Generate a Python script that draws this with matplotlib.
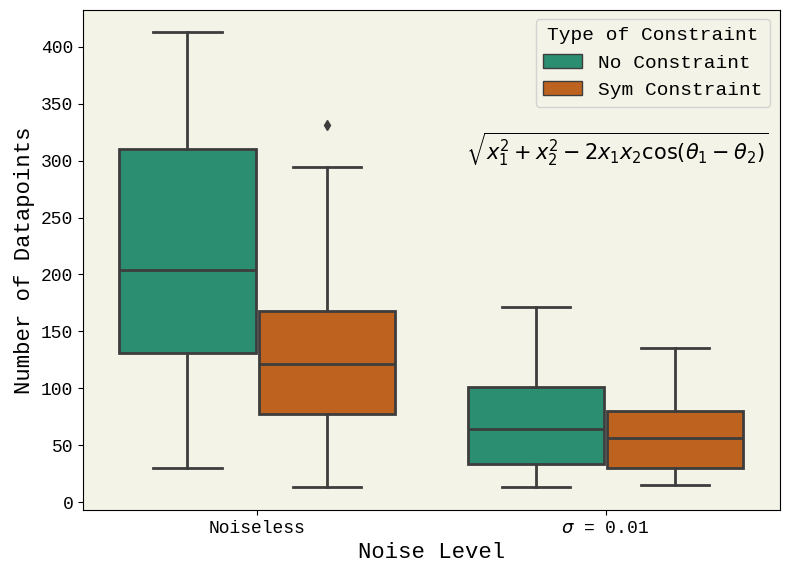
import numpy as np
import matplotlib.pyplot as plt
from matplotlib.patches import Patch

plt.rcParams["font.family"] = ["Liberation Mono", "DejaVu Sans Mono"]
plt.rcParams["mathtext.fontset"] = "dejavusans"

# ---- data ----
noise_levels = ["Noiseless", r"$\sigma$ = 0.01"]
constraints = ["No Constraint", "Sym Constraint"]
colors = ["#2b8e71", "#be631f"]

# per constraint, per noise level: low whisker, Q1, median, Q3, high whisker
whislo = [[30, 13], [13, 15]]
q1 = [[131, 33], [77, 30]]
med = [[204, 64], [121, 56]]
q3 = [[310, 101], [168, 80]]
whishi = [[413, 171], [294, 135]]
fliers = [[[], []], [[331], []]]

fig = plt.figure(figsize=(7.9, 5.75), dpi=100)
ax = fig.add_axes([0.105, 0.113, 0.882, 0.870])
ax.set_facecolor("#f3f3e7")

edge = "#3d3d3d"
box_w = 0.4 * 0.98
for h, name in enumerate(constraints):
    stats = []
    for i in range(len(noise_levels)):
        stats.append(dict(whislo=whislo[h][i], q1=q1[h][i], med=med[h][i],
                          q3=q3[h][i], whishi=whishi[h][i], fliers=fliers[h][i]))
    pos = np.arange(len(noise_levels)) + (h - 0.5) * 0.4
    ax.bxp(stats, positions=pos, widths=box_w, patch_artist=True,
           showfliers=True, manage_ticks=False,
           boxprops=dict(facecolor=colors[h], edgecolor=edge, linewidth=2),
           medianprops=dict(color=edge, linewidth=2),
           whiskerprops=dict(color=edge, linewidth=2),
           capprops=dict(color=edge, linewidth=2),
           capwidths=box_w * 0.5,
           flierprops=dict(marker="d", markerfacecolor=edge, markeredgecolor=edge,
                           markersize=5))

ax.set_xlim(-0.5, 1.5)
ax.set_ylim(-7, 432.5)
ax.set_xticks(range(len(noise_levels)))
ax.set_xticklabels(noise_levels)
ax.set_yticks(np.arange(0, 401, 50))
ax.tick_params(labelsize=13)
ax.set_xlabel("Noise Level", fontsize=16)
ax.set_ylabel("Number of Datapoints", fontsize=16)

handles = [Patch(facecolor=c, edgecolor=edge, label=l) for c, l in zip(colors, constraints)]
leg = ax.legend(handles=handles, title="Type of Constraint", loc="upper right",
                fontsize=14, title_fontsize=14, facecolor="#f3f3e7", framealpha=0.8)

ax.text(0.984, 0.722, r"$\sqrt{x_1^2 + x_2^2 - 2x_1x_2\cos(\theta_1-\theta_2)}$",
        transform=ax.transAxes, ha="right", va="center", fontsize=15)

fig.savefig("out.png", dpi=100)
